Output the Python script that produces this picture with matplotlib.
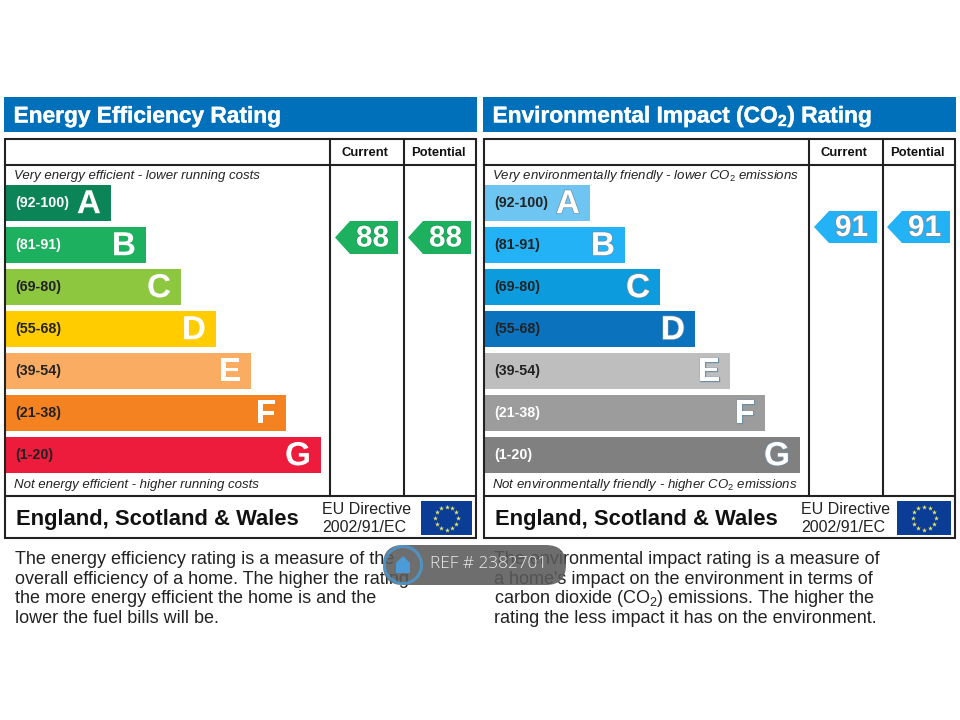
import numpy as np
import matplotlib
matplotlib.use('Agg')
import matplotlib.pyplot as plt
import matplotlib.patheffects as pe
from matplotlib.patches import Polygon, Rectangle, FancyBboxPatch, Circle

plt.rcParams['font.family'] = ['Liberation Sans', 'DejaVu Sans']
plt.rcParams['mathtext.fontset'] = 'custom'
plt.rcParams['mathtext.rm'] = 'Liberation Sans'
plt.rcParams['mathtext.it'] = 'Liberation Sans:italic'
plt.rcParams['mathtext.bf'] = 'Liberation Sans:bold'

# Part I: data
bands = ['A', 'B', 'C', 'D', 'E', 'F', 'G']
ranges = ['(92-100)', '(81-91)', '(69-80)', '(55-68)', '(39-54)', '(21-38)', '(1-20)']
bar_lengths = [106, 141, 176, 211, 246, 281, 316]
energy_colors = ['#0B8457', '#1DB05F', '#8DC63F', '#FFCC00', '#FBAC63', '#F58220', '#ED1C3C']
energy_label_colors = ['white', 'white', '#222222', '#222222', '#222222', '#222222', '#222222']
impact_colors = ['#6FC5F1', '#22B2F5', '#0C9BDC', '#0B72BD', '#BEBEBE', '#9C9C9C', '#808080']
impact_label_colors = ['#222222', '#222222', '#222222', '#222222', '#222222', 'white', 'white']
energy_current = 88
energy_potential = 88
impact_current = 91
impact_potential = 91

energy_title = 'Energy Efficiency Rating'
impact_title = r'Environmental Impact (CO$_{\mathbf{2}}$) Rating'
energy_top = 'Very energy efficient - lower running costs'
energy_bottom = 'Not energy efficient - higher running costs'
impact_top = r'Very environmentally friendly - lower CO$_{\mathit{2}}$ emissions'
impact_bottom = r'Not environmentally friendly - higher CO$_{\mathit{2}}$ emissions'
energy_text = ['The energy efficiency rating is a measure of the',
               'overall efficiency of a home. The higher the rating',
               'the more energy efficient the home is and the',
               'lower the fuel bills will be.']
impact_text = ['The environmental impact rating is a measure of',
               "a home's impact on the environment in terms of",
               r'carbon dioxide (CO$_{2}$) emissions. The higher the',
               'rating the less impact it has on the environment.']

# Part II: drawing, axes in image pixels
fig = plt.figure(figsize=(9.6, 7.2), dpi=100)
ax = fig.add_axes([0, 0, 1, 1])
ax.set_xlim(0, 960)
ax.set_ylim(720, 0)
ax.axis('off')


def arrow(x0, x1, y0, y1, color, value, outline):
    ym = (y0 + y1) / 2
    ax.add_patch(Polygon([(x0, ym), (x0 + 15, y0), (x1, y0), (x1, y1), (x0 + 15, y1)],
                         closed=True, fc=color, ec='none', zorder=2))
    ax.text(x0 + 37.5, ym + 1, str(value), color='white', fontsize=21.5, fontweight='bold',
            ha='center', va='center', zorder=3,
            path_effects=[pe.withStroke(linewidth=1.2, foreground=outline)])


def eu_flag(x0, x1, y0, y1):
    ax.add_patch(Rectangle((x0, y0), x1 - x0, y1 - y0, fc='#0B3C96', ec='none', zorder=2))
    t = np.arange(12) * np.pi / 6
    ax.scatter((x0 + x1) / 2 + 11.5 * np.cos(t), (y0 + y1) / 2 + 11.5 * np.sin(t),
               marker='*', s=14, c='#E4E86A', linewidths=0, zorder=3)


def panel(x, title, top, bottom, colors, label_colors, cur, pot, arrow_y, arrow_col, outline,
          letter_outlines, lines, flag, eu_x, text_x):
    l = x
    r = x + 471
    v1 = x + 324.5
    v2 = x + 398.5
    ax.add_patch(Rectangle((l - 1, 97), 473, 35, fc='#0070BA', ec='none'))
    ax.text(l + 8.5, 116, title, color='white', fontsize=16.35, fontweight='bold', va='center',
            ha='left', path_effects=[pe.withStroke(linewidth=0.3, foreground='white')])

    lw = 1.5
    ax.add_patch(Rectangle((l, 139), r - l, 399, fc='none', ec='#222222', lw=lw, zorder=4))
    ax.plot([l, r], [165, 165], color='#222222', lw=lw, zorder=4)
    ax.plot([l, r], [496, 496], color='#222222', lw=lw, zorder=4)
    ax.plot([v1, v1], [139, 496], color='#222222', lw=lw, zorder=4)
    ax.plot([v2, v2], [139, 496], color='#222222', lw=lw, zorder=4)
    ax.text((v1 + v2) / 2 - 1.5, 153, 'Current', fontsize=9.4, fontweight='bold', ha='center',
            va='center', color='#111111')
    ax.text((v2 + r) / 2 - 1, 153, 'Potential', fontsize=9.4, fontweight='bold', ha='center',
            va='center', color='#111111')

    ax.text(l + 8.5, 176, top, fontsize=9.5, style='italic', va='center', color='#222222')
    ax.text(l + 8.5, 485, bottom, fontsize=9.5, style='italic', va='center', color='#222222')

    ys = 203.2 + 42 * np.arange(len(bands))
    ax.barh(ys, bar_lengths, height=35.5, left=l, color=colors, zorder=2)
    for y, length, band, rng, lc, lo in zip(ys, bar_lengths, bands, ranges, label_colors,
                                            letter_outlines):
        ax.text(l + 10, y, rng, fontsize=10.3, fontweight='bold', color=lc, va='center', zorder=3)
        ax.text(l + length - 10, y + 1.5, band, fontsize=24, fontweight='bold', color='white',
                ha='right', va='center', zorder=3,
                path_effects=[pe.withStroke(linewidth=1.0, foreground=lo)])

    arrow(x + 330, x + 393, arrow_y[0], arrow_y[1], arrow_col, cur, outline)
    arrow(x + 403, x + 466, arrow_y[0], arrow_y[1], arrow_col, pot, outline)

    ax.text(l + 11, 519, 'England, Scotland & Wales', fontsize=15.8, fontweight='bold',
            va='center', color='#111111')
    ax.text(eu_x, 510, 'EU Directive', fontsize=11.5, va='center', color='#222222')
    ax.text(eu_x, 527.5, '2002/91/EC', fontsize=11.5, va='center', color='#222222')
    eu_flag(*flag)

    for i, line in enumerate(lines):
        ax.text(text_x, 559.5 + 19.7 * i, line, fontsize=13, va='center', color='#222222')


panel(5, energy_title, energy_top, energy_bottom, energy_colors, energy_label_colors,
      energy_current, energy_potential, (221, 254), '#1DB05F', '#1A9E55', energy_colors,
      energy_text, (421, 472, 501, 535), 322, 15)
panel(484, impact_title, impact_top, impact_bottom, impact_colors, impact_label_colors,
      impact_current, impact_potential, (211, 243), '#22B2F5', '#6E8FA5', ['#6E8FA5'] * 7,
      impact_text, (897, 951, 501, 535), 801, 494)

# watermark pill
ax.add_patch(FancyBboxPatch((383, 545), 183, 40, boxstyle='round,pad=0,rounding_size=20',
                            fc='#5A5A5A', ec='none', alpha=0.88, zorder=6))
ax.add_patch(Circle((403, 565), 18.5, fc='none', ec='#4A9BD6', lw=2.2, alpha=0.8, zorder=7))
ax.add_patch(Polygon([(396, 573), (396, 563), (403, 556), (410, 563), (410, 573)], closed=True,
                     fc='#4A9BD6', ec='none', zorder=7))
ax.text(430, 564.5, 'REF # 2382701', fontsize=12.3, color='#EDEDED', va='center', zorder=8,
        family=['Open Sans', 'DejaVu Sans'], fontweight='light')

fig.savefig('out.png', dpi=100)
